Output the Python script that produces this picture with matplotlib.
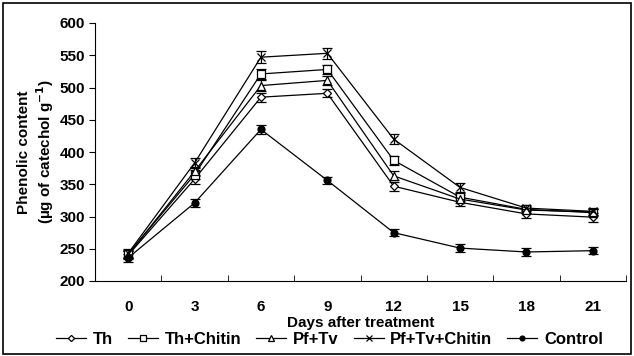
import numpy as np
import matplotlib
matplotlib.use('Agg')
from matplotlib import pyplot as plt
from matplotlib.patches import Rectangle

plt.rcParams['font.family'] = ['Liberation Sans', 'DejaVu Sans']
plt.rcParams['font.weight'] = 'bold'
plt.rcParams['mathtext.default'] = 'bf'

days = ['0', '3', '6', '9', '12', '15', '18', '21']

th = [240, 358, 485, 491, 347, 322, 304, 299]
th_chitin = [242, 365, 521, 528, 387, 330, 311, 306]
pf_tv = [241, 370, 503, 511, 363, 327, 310, 307]
pf_tv_chitin = [243, 383, 547, 553, 420, 345, 313, 308]
control = [236, 321, 435, 356, 275, 251, 245, 247]

th_err = [6, 7, 7, 6, 7, 6, 6, 7]
th_chitin_err = [6, 7, 8, 7, 7, 6, 5, 5]
pf_tv_err = [6, 7, 8, 7, 7, 6, 5, 5]
pf_tv_chitin_err = [6, 8, 9, 9, 8, 7, 5, 5]
control_err = [6, 6, 7, 6, 5, 6, 6, 5]

series = [
	('Th', th, th_err, 'D', 'white', 4.5),
	('Th+Chitin', th_chitin, th_chitin_err, 's', 'white', 5.5),
	('Pf+Tv', pf_tv, pf_tv_err, '^', 'white', 6),
	('Pf+Tv+Chitin', pf_tv_chitin, pf_tv_chitin_err, 'x', 'black', 6),
	('Control', control, control_err, 'o', 'black', 5),
]

fig = plt.figure(figsize=(6.34, 3.56), dpi=100)
ax = fig.add_axes([95/634, 1-281/356, (626-95)/634, (281-23)/356])

x = np.arange(len(days))
for name, vals, err, mk, fc, ms in series:
	ax.errorbar(x, vals, yerr=err, color='black', lw=0.9, marker=mk,
		markerfacecolor=fc, markeredgecolor='black', markersize=ms,
		markeredgewidth=0.9, capsize=3.5, elinewidth=0.9, capthick=0.9,
		label=name)

ax.set_xlim(-0.5, len(days) - 0.5)
ax.set_ylim(200, 600)
ax.set_yticks(np.arange(200, 601, 50))
ax.set_xticks(x)
ax.set_xticklabels(days)
ax.set_xticks(np.arange(-0.5, len(days), 1), minor=True)
ax.tick_params(axis='x', which='major', length=0, pad=14, labelsize=11)
ax.tick_params(axis='x', which='minor', length=4, direction='in')
ax.tick_params(axis='y', length=4, direction='out', labelsize=11, pad=3)
for lab in ax.get_xticklabels() + ax.get_yticklabels():
	lab.set_fontweight('bold')
ax.spines['top'].set_visible(False)
ax.spines['right'].set_visible(False)

ax.set_xlabel('Days after treatment', fontsize=11, fontweight='bold', labelpad=1)
ax.set_ylabel('Phenolic content\n(µg of catechol g$^{-1}$)', fontsize=11,
	fontweight='bold', labelpad=3, linespacing=1.15)

handles, labels = ax.get_legend_handles_labels()
handles = [h[0] for h in handles]
fig.legend(handles, labels, loc='center', bbox_to_anchor=(0.52, 1-339/356), ncol=5,
	frameon=False, handlelength=1.8, handletextpad=0.4, markerscale=0.7,
	columnspacing=0.9, prop={'weight': 'bold', 'size': 12})

fig.patches.append(Rectangle((0.004, 0.006), 0.992, 0.986, transform=fig.transFigure,
	fill=False, edgecolor='black', lw=1.2))

fig.savefig('out.png', dpi=100)
